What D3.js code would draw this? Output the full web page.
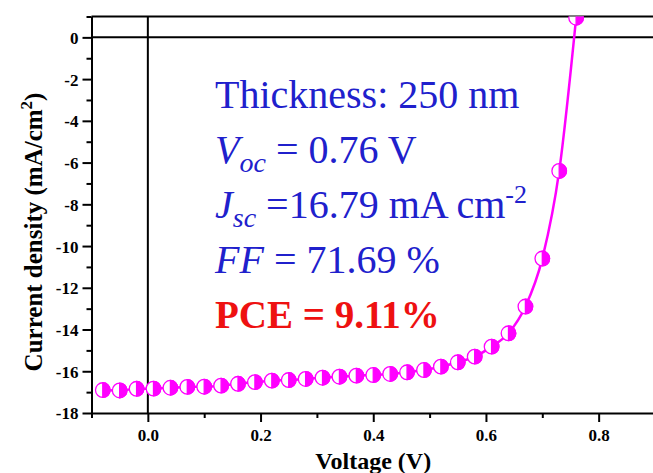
<!DOCTYPE html>
<html>
<head>
<meta charset="utf-8">
<script src="https://cdn.jsdelivr.net/npm/d3@7"></script>
<style>
  html, body { margin: 0; padding: 0; background: #fff; }
  svg { display: block; }
</style>
</head>
<body>
<svg id="chart" width="653" height="473"></svg>
<script>
// ---- data ----
const voltage = [-0.08, -0.05, -0.02, 0.01, 0.04, 0.07, 0.10, 0.13, 0.16, 0.19, 0.22, 0.25, 0.28, 0.31, 0.34,
                 0.37, 0.40, 0.43, 0.46, 0.49, 0.52, 0.55, 0.58, 0.61, 0.64, 0.67, 0.70, 0.73, 0.76];
const currentDensity = [-16.90, -16.92, -16.84, -16.83, -16.79, -16.75, -16.74, -16.69, -16.60, -16.52, -16.45, -16.42,
                        -16.37, -16.31, -16.26, -16.21, -16.18, -16.13, -16.05, -15.94, -15.78, -15.57, -15.30,
                        -14.82, -14.18, -12.90, -10.60, -6.40, 0.94];
const xTickValues = [0, 0.2, 0.4, 0.6, 0.8];
const xTickLabels = ["0.0", "0.2", "0.4", "0.6", "0.8"];
const xMinorTicks = [-0.1, 0.1, 0.3, 0.5, 0.7, 0.9];
const yTickValues = [0, -2, -4, -6, -8, -10, -12, -14, -16, -18];
const yTickLabels = ["0", "-2", "-4", "-6", "-8", "-10", "-12", "-14", "-16", "-18"];
const yMinorTicks = [1, -1, -3, -5, -7, -9, -11, -13, -15, -17];
const xDomain = [-0.1, 0.9];
const yDomain = [-18, 1];

// ---- layout ----
const svg = d3.select("#chart");
const L = 91.5, R = 655, T = 16.5, B = 413;
const x = d3.scaleLinear().domain(xDomain).range([L, R]);
const y = d3.scaleLinear().domain(yDomain).range([B, T]);
const serif = "'Liberation Serif', 'Times New Roman', Times, serif";
const magenta = "#ff00ff";
const blue = "#2020cc";

// clip
svg.append("defs").append("clipPath").attr("id", "plotclip")
  .append("rect").attr("x", L).attr("y", T).attr("width", R - L).attr("height", B - T);

// frame and reference lines
svg.append("line").attr("x1", L).attr("x2", R).attr("y1", T).attr("y2", T)
  .attr("stroke", "#000").attr("stroke-width", 2);
svg.append("line").attr("x1", L).attr("x2", R).attr("y1", y(0)).attr("y2", y(0))
  .attr("stroke", "#000").attr("stroke-width", 2);
svg.append("line").attr("x1", x(0)).attr("x2", x(0)).attr("y1", T).attr("y2", B)
  .attr("stroke", "#000").attr("stroke-width", 2);

// axes
function styleAxis(g) {
  g.selectAll("path.domain").attr("stroke", "#000").attr("stroke-width", 2);
  g.selectAll(".tick line").attr("stroke", "#000").attr("stroke-width", 2);
  g.selectAll(".tick text").attr("font-family", serif).attr("font-weight", "bold")
    .attr("font-size", 17).attr("fill", "#000");
}
const yAxis = svg.append("g").attr("transform", `translate(${L},0)`)
  .call(d3.axisLeft(y).tickValues(yTickValues).tickSize(9).tickSizeOuter(0).tickPadding(4)
    .tickFormat((d, i) => yTickLabels[i]));
styleAxis(yAxis);
yAxis.selectAll(".tick text").attr("dy", "0.35em");
const yMinor = svg.append("g").attr("transform", `translate(${L},0)`)
  .call(d3.axisLeft(y).tickValues(yMinorTicks).tickSize(5).tickFormat(""));
yMinor.select("path.domain").remove();
styleAxis(yMinor);

const xAxis = svg.append("g").attr("transform", `translate(0,${B})`)
  .call(d3.axisBottom(x).tickValues(xTickValues).tickSize(9).tickSizeOuter(0).tickPadding(7)
    .tickFormat((d, i) => xTickLabels[i]));
styleAxis(xAxis);
const xMinor = svg.append("g").attr("transform", `translate(0,${B})`)
  .call(d3.axisBottom(x).tickValues(xMinorTicks).tickSize(5).tickFormat(""));
xMinor.select("path.domain").remove();
styleAxis(xMinor);

// axis titles
svg.append("text").attr("x", (L + R) / 2).attr("y", 468.5).attr("text-anchor", "middle")
  .attr("font-family", serif).attr("font-weight", "bold").attr("font-size", 24)
  .text("Voltage (V)");
const yt = svg.append("text").attr("transform", "translate(42,232) rotate(-90)")
  .attr("text-anchor", "middle").attr("font-family", serif).attr("font-weight", "bold").attr("font-size", 25);
yt.append("tspan").text("Current density (mA/cm");
yt.append("tspan").attr("font-size", 17).attr("dy", -10).text("2");
yt.append("tspan").attr("dy", 10).text(")");

// data
const pts = voltage.map((v, i) => ({ v, j: currentDensity[i] }));
const plot = svg.append("g").attr("clip-path", "url(#plotclip)");
plot.append("path").datum(pts)
  .attr("d", d3.line().x(d => x(d.v)).y(d => y(d.j)).curve(d3.curveMonotoneX))
  .attr("fill", "none").attr("stroke", magenta).attr("stroke-width", 2.5);
const r = 7.3;
const mk = plot.selectAll("g.mk").data(pts).join("g").attr("class", "mk")
  .attr("transform", d => `translate(${x(d.v)},${y(d.j)})`);
mk.append("circle").attr("r", r).attr("fill", "#fff").attr("stroke", magenta).attr("stroke-width", 1.3);
mk.append("path").attr("d", `M0,${-r} A${r},${r} 0 0 1 0,${r} Z`).attr("fill", magenta)
  .attr("stroke", magenta).attr("stroke-width", 1.3);

// annotation text
const tx = 215;
const fs = 40;
function line(yb) {
  return svg.append("text").attr("x", tx).attr("y", yb).attr("font-family", serif)
    .attr("font-size", fs).attr("fill", blue);
}
line(107.5).text("Thickness: 250 nm");
const l2 = line(162.5);
l2.append("tspan").attr("font-style", "italic").text("V");
l2.append("tspan").attr("font-style", "italic").attr("font-size", 28).attr("dy", 9).text("oc");
l2.append("tspan").attr("dy", -9).text(" = 0.76 V");
const l3 = line(217.5);
l3.append("tspan").attr("font-style", "italic").text("J");
l3.append("tspan").attr("font-style", "italic").attr("font-size", 28).attr("dy", 9).text("sc");
l3.append("tspan").attr("dy", -9).text(" =16.79 mA cm");
l3.append("tspan").attr("font-size", 26).attr("dy", -15).text("-2");
const l4 = line(272.5);
l4.append("tspan").attr("font-style", "italic").text("FF");
l4.append("tspan").text(" = 71.69 %");
svg.append("text").attr("x", tx).attr("y", 327.5).attr("font-family", serif)
  .attr("font-size", 39).attr("font-weight", "bold").attr("fill", "#ee1111")
  .text("PCE = 9.11%");
</script>
</body>
</html>
